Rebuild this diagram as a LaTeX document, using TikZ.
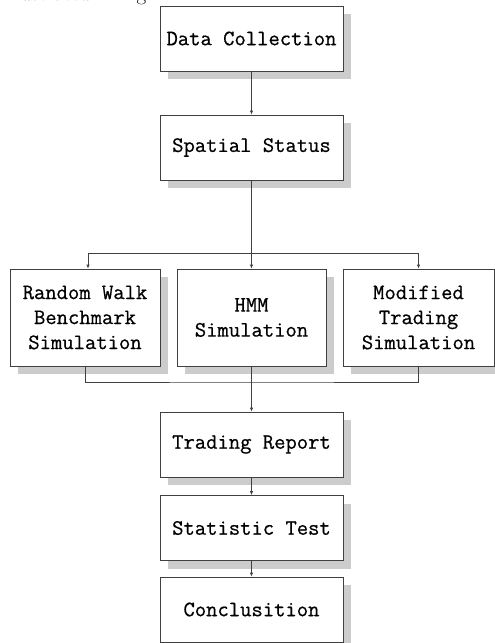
\documentclass[tikz,border=0pt]{standalone}
\usepackage{fontspec}
\newfontfamily\boxfont[FakeBold=0.6]{Latin Modern Mono}
\usetikzlibrary{arrows.meta,shadows}
\begin{document}
\begin{tikzpicture}[x=1pt,y=-1pt,
  box/.style={draw=black!75, line width=0.7pt, fill=white, inner sep=0pt,
    minimum height=65pt, align=center,
    font=\fontsize{22}{25}\selectfont\boxfont,
    drop shadow={shadow xshift=8pt, shadow yshift=-8pt, fill=black!20, opacity=1}},
  wide/.style={box, minimum width=183pt},
  tall/.style={box, minimum height=97pt},
  link/.style={draw=black!75, line width=0.7pt},
  arr/.style={link, -{Latex[length=4pt,width=3.5pt]}}]
\useasboundingbox (0,0) rectangle (495,643);
\clip (0,0) rectangle (495,643);
\node[anchor=base east, inner sep=0pt, font=\fontsize{21}{24}\selectfont] (cap) at (190,0) {illustrated in Fig. 4.1.};
\node[wide] (dc) at (251.5,38.5) {Data Collection};
\node[wide] (ss) at (251.5,147.5) {Spatial Status};
\node[tall, minimum width=150pt] (rw) at (85,317.5) {Random Walk\\Benchmark\\Simulation};
\node[tall, minimum width=149pt] (hm) at (251.5,317.5) {HMM\\Simulation};
\node[tall, minimum width=151pt] (mt) at (418.5,317.5) {Modified\\Trading\\Simulation};
\node[wide] (tr) at (251.5,444.5) {Trading Report};
\node[wide] (st) at (251.5,528) {Statistic Test};
\node[wide] (cc) at (251.5,609.5) {Conclusition};
\coordinate (split) at (251.5,253);
\coordinate (join) at (251.5,382);
\draw[arr] (dc.south) -- (ss.north);
\draw[link] (ss.south) -- (split);
\draw[arr] (split) -| ([xshift=3pt]rw.north);
\draw[arr] (split) -- (hm.north);
\draw[arr] (split) -| (mt.north);
\draw[link] (rw.south) |- (join) -| (mt.south);
\draw[arr] (hm.south) -- (tr.north);
\draw[arr] (tr.south) -- (st.north);
\draw[arr] (st.south) -- (cc.north);
\end{tikzpicture}
\end{document}
